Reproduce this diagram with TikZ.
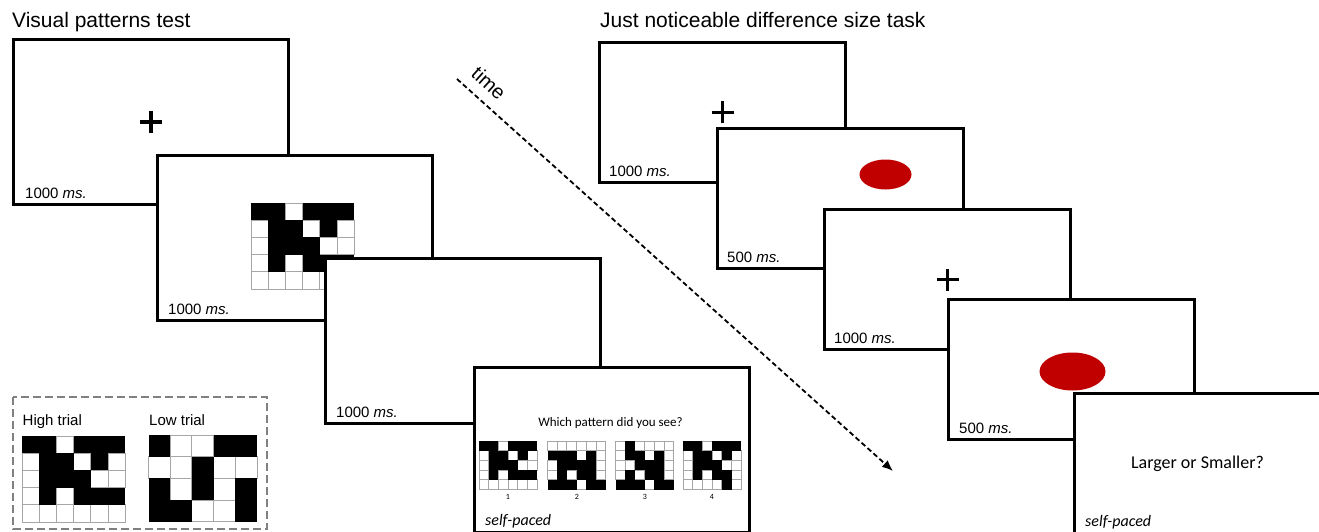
\documentclass[tikz,border=0pt]{standalone}
\usepackage{fontspec}
\setmainfont{Liberation Sans}
\newfontfamily\calib{Carlito}
\usetikzlibrary{arrows.meta}
\definecolor{dotred}{HTML}{C00000}
\definecolor{gridgray}{HTML}{A6A6A6}
\definecolor{boxgray}{HTML}{808080}
\tikzset{
  frame/.style={draw=black, line width=3pt, fill=white, inner sep=0pt, anchor=north west},
  lframe/.style={frame, minimum width=275pt, minimum height=165pt},
  rframe/.style={frame, minimum width=246pt, minimum height=140pt},
  dur/.style={font=\fontsize{15}{18}\selectfont, anchor=base west, inner sep=0pt},
  selfp/.style={font=\calib\itshape\fontsize{16}{19}\selectfont, anchor=base west, inner sep=0pt},
  title/.style={font=\fontsize{21}{25}\selectfont, anchor=base west, inner sep=0pt},
  plusline/.style={line width=3.2pt},
  gridline/.style={draw=gridgray, line width=0.9pt},
  dotfill/.style={fill=dotred, draw=none},
  numlab/.style={font=\calib\fontsize{8}{9}\selectfont, inner sep=0pt},
}
% #1 x, #2 y, #3 cell size, #4 macro holding the rows
\newcommand\patgrid[4]{%
  \begin{scope}[shift={(#1,#2)}]
    \foreach \prow [count=\pr] in #4 {\foreach \pv [count=\pk] in \prow {%
      \ifnum\pv=0 \draw[gridline, fill=white] ({(\pk-1)*#3},{(\pr-1)*#3}) rectangle ++(#3,#3);\fi}}
    \foreach \prow [count=\pr] in #4 {\foreach \pv [count=\pk] in \prow {%
      \ifnum\pv=1 \fill[black] ({(\pk-1)*#3},{(\pr-1)*#3}) rectangle ++(#3,#3);\fi}}
  \end{scope}}
\newcommand\plussign[1]{%
  \draw[plusline] ([xshift=-11pt]#1) -- ([xshift=11pt]#1);
  \draw[plusline] ([yshift=-11pt]#1) -- ([yshift=11pt]#1);}
\def\highpat{{1,1,0,1,1,1},{0,1,1,0,1,0},{0,1,1,1,0,0},{0,1,0,1,1,1},{0,0,0,0,0,0}}
\def\patB{{0,0,0,0,0,0},{1,1,1,0,1,0},{0,1,1,1,1,0},{0,1,0,1,1,0},{1,1,1,0,1,1}}
\def\patC{{0,1,0,0,0,0},{0,1,1,0,1,0},{0,0,1,1,1,0},{0,1,0,1,1,0},{1,1,1,0,1,1}}
\def\patD{{1,1,0,1,1,1},{0,1,1,0,1,0},{0,1,1,1,0,0},{0,1,0,1,1,0},{0,0,0,0,1,0}}
\def\lowpat{{1,0,0,1,1},{0,0,1,0,0},{1,0,1,0,1},{1,1,0,0,1}}
\begin{document}
\begin{tikzpicture}[x=1pt, y=-1pt]
\useasboundingbox (0,0) rectangle (1319,532);
\fill[white] (0,0) rectangle (1319,532);

% titles
\node[title] (t1) at (12,28) {Visual patterns test};
\node[title] (t2) at (600,28) {Just noticeable difference size task};

% left sequence
\node[lframe] (f1) at (12,38) {};
\plussign{f1.center}
\node[dur] (d1) at ([xshift=13pt,yshift=8pt]f1.south west) {1000 \textit{ms.}};

\node[lframe] (f2) at (156,154) {};
\patgrid{251}{203}{17.2}{\highpat}
\node[dur] (d2) at ([xshift=12pt,yshift=8pt]f2.south west) {1000 \textit{ms.}};

\node[lframe] (f3) at (324,257) {};
\node[dur] (d3) at ([xshift=12pt,yshift=8pt]f3.south west) {1000 \textit{ms.}};

\node[lframe] (f4) at (473,366) {};
\node[font=\calib\fontsize{13}{15}\selectfont] (q) at (610.5,423) {Which pattern did you see?};
\patgrid{479}{441}{9.7}{\highpat}
\patgrid{547.5}{441}{9.7}{\patB}
\patgrid{615.5}{441}{9.7}{\patC}
\patgrid{683}{441}{9.7}{\patD}
\node[numlab] (n1) at (508,497) {1};
\node[numlab] (n2) at (577,497) {2};
\node[numlab] (n3) at (645,497) {3};
\node[numlab] (n4) at (712,497) {4};
\node[selfp] (s1) at ([xshift=12pt,yshift=9pt]f4.south west) {self-paced};

% legend
\draw[boxgray, line width=2.4pt, dash pattern=on 8pt off 4pt] (13,397) rectangle (267,529);
\node[font=\fontsize{15}{18}\selectfont, anchor=base west, inner sep=0pt] (hl) at (22.5,425.5) {High trial};
\node[font=\fontsize{15}{18}\selectfont, anchor=base west, inner sep=0pt] (ll) at (149,425.5) {Low trial};
\patgrid{22}{436}{17.2}{\highpat}
\patgrid{148.5}{435}{21.7}{\lowpat}

% time arrow
\coordinate (ts) at (457,79);
\coordinate (te) at (893,471);
\draw[line width=1.8pt, dash pattern=on 5pt off 3pt, -{Latex[length=11pt,width=9pt]}] (ts) -- (te);
\node[rotate=-42, font=\fontsize{20}{24}\selectfont, inner sep=0pt] (tl) at (489,83) {time};

% right sequence
\node[rframe] (r1) at (598,41) {};
\plussign{r1.center}
\node[dur] (e1) at ([xshift=11pt,yshift=8pt]r1.south west) {1000 \textit{ms.}};

\node[rframe] (r2) at (716,127) {};
\fill[dotfill] ([xshift=45pt,yshift=24pt]r2.center) ellipse (26 and 15);
\node[dur] (e2) at ([xshift=11pt,yshift=8pt]r2.south west) {500 \textit{ms.}};

\node[rframe] (r3) at (823,208) {};
\plussign{r3.center}
\node[dur] (e3) at ([xshift=11pt,yshift=8pt]r3.south west) {1000 \textit{ms.}};

\node[rframe] (r4) at (947,298) {};
\fill[dotfill] ([xshift=1pt,yshift=-2pt]r4.center) ellipse (33 and 19);
\node[dur] (e4) at ([xshift=12pt,yshift=8pt]r4.south west) {500 \textit{ms.}};

\node[rframe] (r5) at (1073,392) {};
\node[font=\calib\fontsize{18}{22}\selectfont] (lq) at (r5.center) {Larger or Smaller?};
\node[selfp] (s2) at ([xshift=12pt,yshift=9pt]r5.south west) {self-paced};
\end{tikzpicture}
\end{document}
